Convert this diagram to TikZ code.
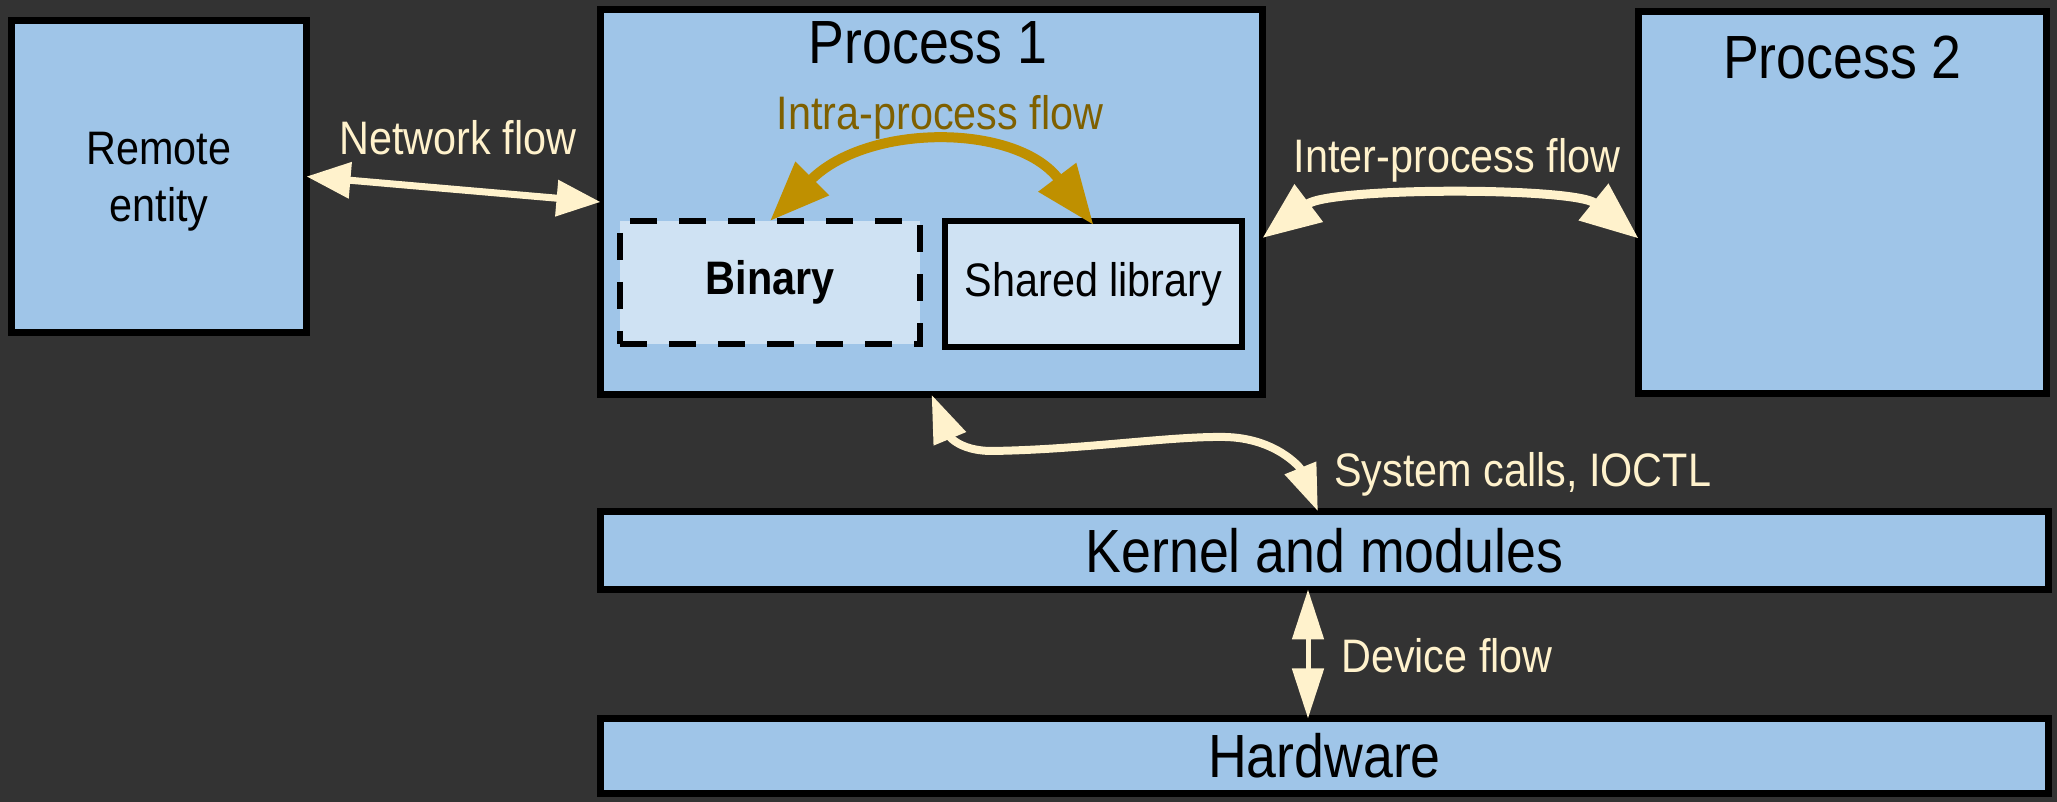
\documentclass[tikz,border=0pt]{standalone}
\usepackage{fontspec}
\setmainfont[FakeStretch=0.88]{Liberation Sans}
\usetikzlibrary{arrows.meta,calc}

\definecolor{bgdark}{HTML}{333333}
\definecolor{boxblue}{HTML}{9FC5E8}
\definecolor{innerblue}{HTML}{CFE2F3}
\definecolor{cream}{HTML}{FFF2CC}
\definecolor{gold}{HTML}{BF9000}
\definecolor{goldtext}{HTML}{7F6000}

\newcommand\fbig{\fontsize{61}{73}\selectfont}
\newcommand\fsmall{\fontsize{47}{57}\selectfont}

\begin{document}
\begin{tikzpicture}[x=1pt,y=1pt,
  box/.style={draw=black, line width=7pt, fill=boxblue, inner sep=0pt, outer sep=0pt, font=\fbig},
  inbox/.style={draw=black, line width=6pt, fill=innerblue, inner sep=0pt, outer sep=0pt, font=\fsmall},
  lbl/.style={inner sep=0pt, font=\fsmall, text=cream},
  flow/.style={draw=cream, line width=7pt},
]
% canvas
\fill[bgdark] (0,0) rectangle (2057,802);
\useasboundingbox (0,0) rectangle (2057,802);

% boxes
\node[box, minimum width=295pt, minimum height=312pt] (remote) at (159,625.5) {};
\node[align=center, inner sep=0pt, font=\fsmall] (remotet) at ($(remote.center)+(0,-5)$) {Remote\\entity};
\node[box, minimum width=662pt, minimum height=385pt] (p1) at (931.5,600) {};
\node[box, minimum width=408pt, minimum height=382pt] (p2) at (1842.5,599.5) {};
\node[box, minimum width=1448pt, minimum height=78pt] (kernel) at (1324.5,251.5) {Kernel and modules};
\node[box, minimum width=1448pt, minimum height=75pt] (hw) at (1324.5,46) {Hardware};

\node[inbox, dash pattern=on 27pt off 22pt, minimum width=300pt, minimum height=123pt,
  font=\fsmall\bfseries] (binary) at (770,519.5) {Binary};
\node[inbox, minimum width=297pt, minimum height=126pt] (shared) at (1093.5,518) {Shared library};

% titles
\node[anchor=base, inner sep=0pt, font=\fbig] (p1t) at ($(p1.north)+(-3.5,-54.5)$) {Process 1};
\node[anchor=base, inner sep=0pt, font=\fbig] (p2t) at ($(p2.north)+(0,-67.5)$) {Process 2};

% flow labels
\node[lbl, anchor=base] (netl) at (458,647) {Network flow};
\node[lbl, anchor=base, text=goldtext] (intral) at (940,672) {Intra-process flow};
\node[lbl, anchor=base] (interl) at (1457,629) {Inter-process flow};
\node[lbl, anchor=base west] (sysl) at (1334,315) {System calls, IOCTL};
\node[lbl, anchor=base west] (devl) at (1341,129) {Device flow};

% network flow
\draw[flow, {Triangle[length=44pt,width=35pt]}-{Triangle[length=44pt,width=35pt]}]
  (remote.east) -- (p1.west);

% intra-process flow
\draw[draw=gold, line width=10pt, {Triangle[length=60pt,width=45pt]}-{Triangle[length=60pt,width=45pt]}]
  (binary.north) .. controls (867.5,679) and (1016,679) .. ([yshift=-4pt]shared.north);

% inter-process flow
\draw[flow, line width=9pt, {Triangle[length=58pt,width=45pt]}-{Triangle[length=58pt,width=45pt]}]
  ([yshift=-36pt]p1.east) .. controls (1330,615) and (1575,615) .. ([yshift=-36pt]p2.west);

% system calls
\draw[flow, line width=8pt, {Triangle[length=48pt,width=33pt]}-{Triangle[length=47pt,width=32pt]}]
  (p1.south) .. controls (945,375) and (950,352) .. (990,351)
  .. controls (1080,352) and (1170,366) .. (1225,365)
  .. controls (1275,364) and (1300,335) .. ([xshift=-6.5pt]kernel.north);

% device flow
\draw[flow, line width=5pt, {Triangle[length=50pt,width=31pt]}-{Triangle[length=50pt,width=31pt]}]
  ([xshift=-16.5pt]kernel.south) -- ([xshift=-16.5pt]hw.north);
\end{tikzpicture}
\end{document}
